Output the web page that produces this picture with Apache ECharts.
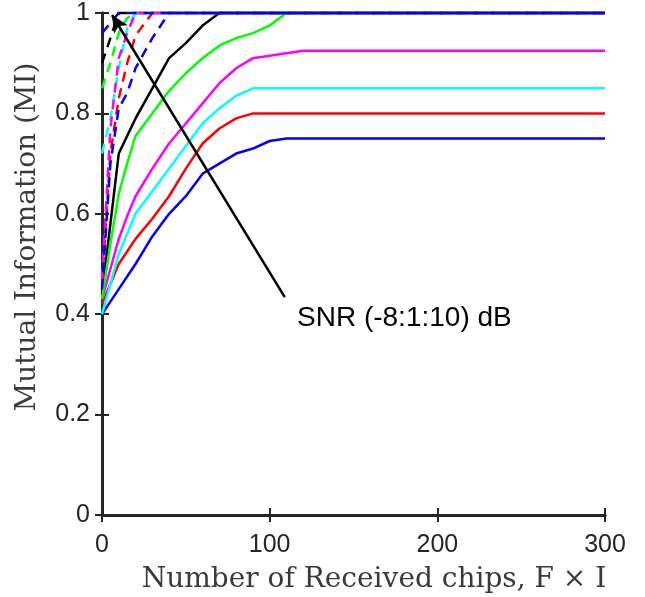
<!DOCTYPE html>
<html>
<head>
<meta charset="utf-8">
<script src="https://cdn.jsdelivr.net/npm/echarts@6/dist/echarts.min.js"></script>
<style>html,body{margin:0;padding:0;background:#fff;}#c{width:645px;height:597px;}</style>
</head>
<body>
<div id="c"></div>
<script>
// Shared x positions (Number of received chips)
const X = [0, 5, 10, 15, 20, 30, 40, 50, 60, 70, 80, 90, 100, 110, 120, 300];

// Solid curves (low SNR)
const solidBlue    = [0.40,0.425,0.45,0.475,0.50,0.555,0.60,0.635,0.68,0.70,0.72,0.73,0.745,0.75,0.75,0.75];
const solidRed     = [0.42,0.46,0.50,0.525,0.55,0.59,0.635,0.69,0.74,0.77,0.79,0.80,0.80,0.80,0.80,0.80];
const solidCyan    = [0.40,0.46,0.52,0.56,0.60,0.645,0.69,0.735,0.78,0.81,0.835,0.85,0.85,0.85,0.85,0.85];
const solidMagenta = [0.43,0.49,0.55,0.595,0.635,0.69,0.74,0.78,0.82,0.86,0.89,0.91,0.915,0.92,0.925,0.925];
const solidGreen   = [0.43,0.54,0.64,0.70,0.755,0.80,0.845,0.88,0.91,0.935,0.95,0.96,0.975,1.0,1.0,1.0];
const solidBlack   = [0.44,0.58,0.72,0.755,0.79,0.85,0.91,0.94,0.975,1.0,1.0,1.0,1.0,1.0,1.0,1.0];

// Dashed curves (higher SNR)
const dashBlue     = [0.45,0.70,0.81,0.84,0.89,0.95,1.0,1.0,1.0,1.0,1.0,1.0,1.0,1.0,1.0,1.0];
const dashRed      = [0.46,0.72,0.83,0.90,0.955,1.0,1.0,1.0,1.0,1.0,1.0,1.0,1.0,1.0,1.0,1.0];
const dashMagenta  = [0.47,0.77,0.91,0.96,1.0,1.0,1.0,1.0,1.0,1.0,1.0,1.0,1.0,1.0,1.0,1.0];
const dashCyan     = [0.72,0.79,0.89,0.97,1.0,1.0,1.0,1.0,1.0,1.0,1.0,1.0,1.0,1.0,1.0,1.0];
const dashGreen    = [0.85,0.90,0.96,0.99,1.0,1.0,1.0,1.0,1.0,1.0,1.0,1.0,1.0,1.0,1.0,1.0];
const dashBlack    = [0.90,0.95,1.0,1.0,1.0,1.0,1.0,1.0,1.0,1.0,1.0,1.0,1.0,1.0,1.0,1.0];
const dashBlue2    = [0.96,0.98,1.0,1.0,1.0,1.0,1.0,1.0,1.0,1.0,1.0,1.0,1.0,1.0,1.0,1.0];

const xTicks = [0, 100, 200, 300];
const yTicks = [0, 0.2, 0.4, 0.6, 0.8, 1];

// Annotation arrow (data coords): tail and head
const arrowTail = [109, 0.434];
const arrowHead = [6, 0.996];
const annotationText = 'SNR (-8:1:10) dB';
const xTitle = 'Number of Received chips, F \u00d7 I';
const yTitle = 'Mutual Information (MI)';

const pairs = ys => X.map((x, i) => [x, ys[i]]);

const solidDefs = [
  [solidBlue, '#0000ff'], [solidRed, '#ff0000'], [solidCyan, '#00ffff'],
  [solidMagenta, '#ff00ff'], [solidBlack, '#000000'], [solidGreen, '#00ff00']
];
const dashDefs = [
  [dashBlack, '#000000'], [dashGreen, '#00ff00'], [dashCyan, '#00ffff'],
  [dashRed, '#ff0000'], [dashMagenta, '#ff00ff'], [dashBlue, '#0000ff'], [dashBlue2, '#0000ff']
];

const series = [];
solidDefs.forEach(([d, c]) => series.push({
  type: 'line', data: pairs(d), symbol: 'none', clip: false, silent: true,
  lineStyle: { color: c, width: 2.5 }, z: 3
}));
dashDefs.forEach(([d, c]) => series.push({
  type: 'line', data: pairs(d), symbol: 'none', clip: false, silent: true,
  lineStyle: { color: c, width: 2.5, type: [10, 7] }, z: 4
}));
series.push({
  type: 'line', data: [], symbol: 'none', silent: true,
  markLine: {
    silent: true, animation: false,
    symbol: ['none', 'arrow'], symbolSize: [12, 17],
    lineStyle: { color: '#000', width: 2.5, type: 'solid' },
    label: { show: false },
    data: [[{ coord: arrowTail }, { coord: arrowHead }]]
  },
  z: 5
});

const axisColor = '#262626';
const labelFont = { fontFamily: 'Liberation Sans', fontSize: 25, color: axisColor };
const nameStyle = { fontFamily: 'DejaVu Serif', fontSize: 28, fill: '#3a3a3a' };

const chart = echarts.init(document.getElementById('c'), null, { renderer: 'canvas' });
chart.setOption({
  animation: false,
  backgroundColor: '#fff',
  grid: { left: 102, right: 40, top: 13, bottom: 82 },
  xAxis: [{
    type: 'value', min: 0, max: 300, interval: 100,
    axisLine: { show: true, lineStyle: { color: axisColor, width: 3 } },
    axisTick: { show: true, inside: true, length: 7, lineStyle: { color: axisColor, width: 2 } },
    axisLabel: Object.assign({ margin: 18, formatter: v => xTicks.includes(v) ? String(v) : '' }, labelFont),
    splitLine: { show: false }
  }, {
    type: 'value', min: 0, max: 300, interval: 100, position: 'top',
    axisLine: { show: true, lineStyle: { color: axisColor, width: 3 } },
    axisTick: { show: true, inside: true, length: 7, lineStyle: { color: axisColor, width: 2 } },
    axisLabel: { show: false }, splitLine: { show: false }
  }],
  yAxis: [{
    type: 'value', min: 0, max: 1, interval: 0.2,
    axisLine: { show: true, lineStyle: { color: axisColor, width: 3 } },
    axisTick: { show: true, inside: true, length: 7, lineStyle: { color: axisColor, width: 2 } },
    axisLabel: Object.assign({ margin: 12, formatter: v => {
      const t = yTicks.find(k => Math.abs(k - v) < 1e-9);
      return t === undefined ? '' : String(t);
    } }, labelFont),
    splitLine: { show: false }
  }, {
    type: 'value', min: 0, max: 1, interval: 0.2, position: 'right',
    axisLine: { show: true, lineStyle: { color: axisColor, width: 3 } },
    axisTick: { show: true, inside: true, length: 7, lineStyle: { color: axisColor, width: 2 } },
    axisLabel: { show: false }, splitLine: { show: false }
  }],
  graphic: [{
    type: 'text', left: 297, top: 304, z: 10,
    style: { text: annotationText, fontFamily: 'Liberation Sans', fontSize: 28, fill: '#000' }
  }, {
    type: 'text', x: 374, y: 580, z: 10,
    style: Object.assign({ text: xTitle, align: 'center', verticalAlign: 'middle' }, nameStyle)
  }, {
    type: 'text', x: 28, y: 237, rotation: Math.PI / 2, z: 10,
    style: Object.assign({ text: yTitle, align: 'center', verticalAlign: 'middle' }, nameStyle)
  }],
  series: series
});
</script>
</body>
</html>
